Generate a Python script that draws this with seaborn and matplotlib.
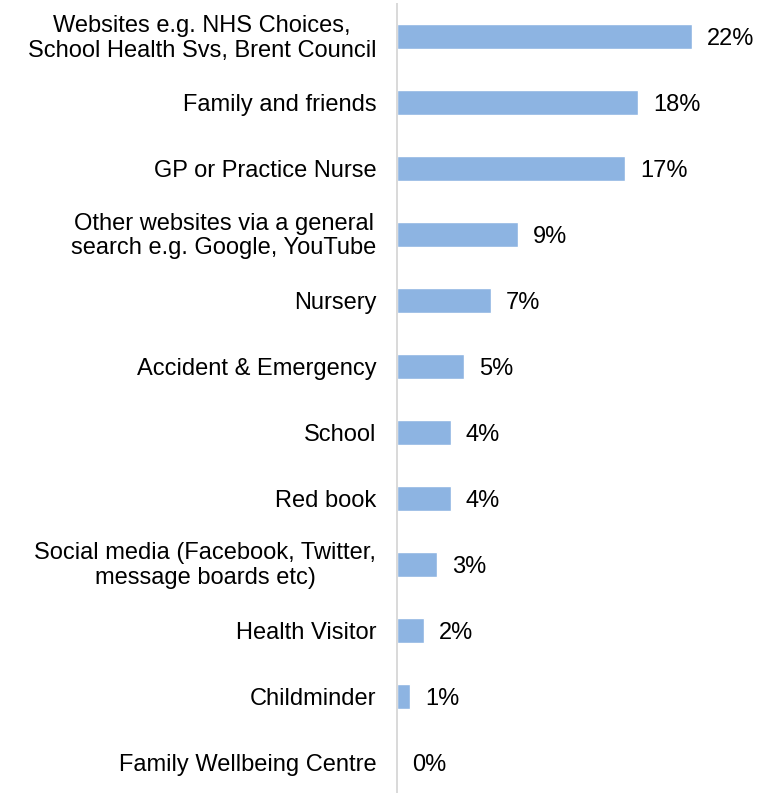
import matplotlib
matplotlib.use("Agg")
import matplotlib.pyplot as plt
import matplotlib.transforms as mtransforms
import seaborn as sns
import pandas as pd

categories = [
    "Websites e.g. NHS Choices,\nSchool Health Svs, Brent Council",
    "Family and friends",
    "GP or Practice Nurse",
    "Other websites via a general\nsearch e.g. Google, YouTube",
    "Nursery",
    "Accident & Emergency",
    "School",
    "Red book",
    "Social media (Facebook, Twitter,\nmessage boards etc)",
    "Health Visitor",
    "Childminder",
    "Family Wellbeing Centre",
]
percentages = [22, 18, 17, 9, 7, 5, 4, 4, 3, 2, 1, 0]

sns.set_style("white")
plt.rcParams["font.family"] = ["Liberation Sans", "DejaVu Sans"]

df = pd.DataFrame({"source": categories, "pct": percentages})

fig = plt.figure(figsize=(7.83, 7.93), dpi=100)
ax = fig.add_axes([397 / 783, -2 / 793, 1 - 397 / 783, 791 / 793])

sns.barplot(data=df, x="pct", y="source", orient="h", color="#8DB4E2",
            saturation=1, width=0.38, ax=ax)

ax.set_xlim(0, 28.8)
ax.set_ylim(len(categories) - 0.5, -0.5)
ax.set_xlabel("")
ax.set_ylabel("")
ax.set_xticks([])

ax.tick_params(axis="y", length=0, pad=15)
lift = mtransforms.ScaledTranslation(0, 2.5 / 100, fig.dpi_scale_trans)
for lbl in ax.get_yticklabels():
    lbl.set_multialignment("center")
    lbl.set_fontsize(17)
    lbl.set_color("black")
    lbl.set_linespacing(1.16)
    if "\n" in lbl.get_text():
        lbl.set_transform(lbl.get_transform() + lift)

for i, v in enumerate(percentages):
    ax.annotate(f"{v}%", xy=(v, i), xytext=(15, 0), textcoords="offset pixels",
                ha="left", va="center_baseline", fontsize=17, color="black")

for side in ["top", "right", "bottom"]:
    ax.spines[side].set_visible(False)
ax.spines["left"].set_color("#D9D9D9")
ax.spines["left"].set_linewidth(1.4)

fig.savefig("out.png", dpi=100)
